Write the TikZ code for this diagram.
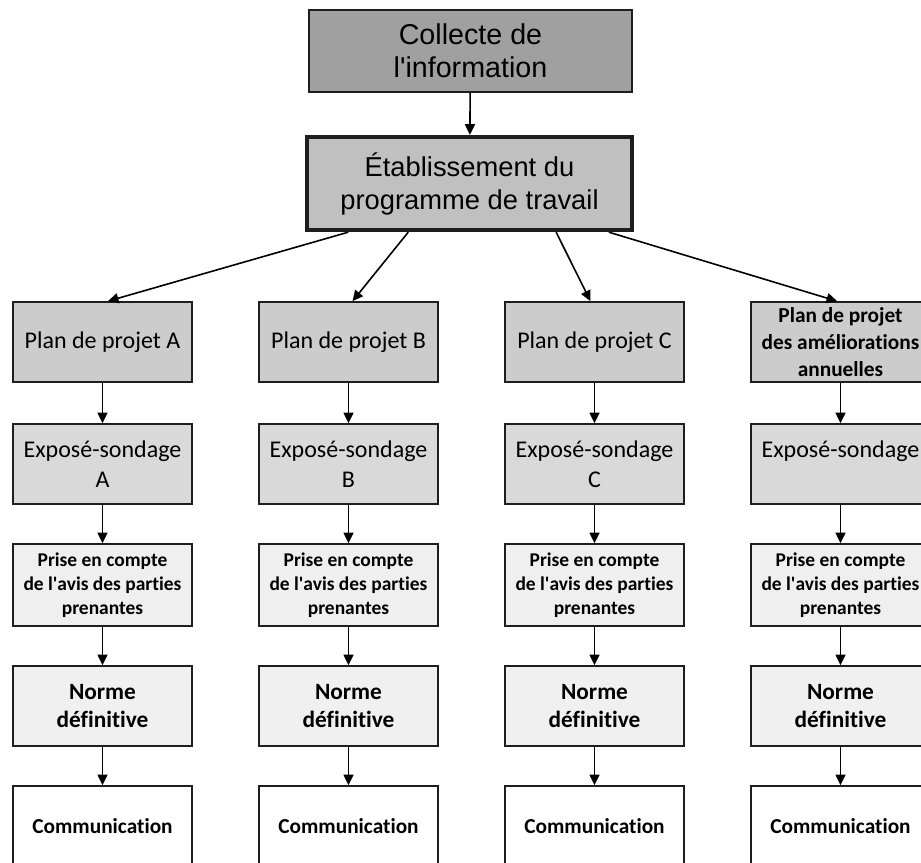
\documentclass[tikz,border=0pt]{standalone}
\usepackage{fontspec}
\setmainfont{Carlito}[Ligatures={NoCommon}]
\newfontfamily\arialfont{Liberation Sans}
\usetikzlibrary{arrows.meta,calc}
\definecolor{collectgray}{HTML}{A0A0A0}
\definecolor{proggray}{HTML}{C0C0C0}
\definecolor{plangray}{HTML}{CCCCCC}
\definecolor{expogray}{HTML}{D9D9D9}
\definecolor{avisgray}{HTML}{EFEFEF}
\definecolor{normegray}{HTML}{F0F0F0}
\definecolor{edge}{HTML}{1E1E1E}
\tikzset{
  headbox/.style={draw=edge, line width=1.2pt, fill=collectgray, inner sep=2pt,
              minimum width=242pt, minimum height=61.5pt, align=center,
              font=\arialfont\fontsize{21.5}{24.75}\selectfont},
  progbox/.style={headbox, line width=3pt, fill=proggray, minimum width=244pt, minimum height=70pt,
              font=\arialfont\fontsize{20.5}{24.75}\selectfont},
  colbox/.style={draw=edge, line width=1.2pt, inner sep=2pt, align=center,
              minimum width=134.25pt, minimum height=60pt},
  planbox/.style={colbox, fill=plangray, font=\fontsize{18}{22.5}\selectfont},
  expobox/.style={colbox, fill=expogray, font=\fontsize{18}{22.5}\selectfont},
  avisbox/.style={colbox, fill=avisgray, minimum height=61.5pt, font=\bfseries\fontsize{14.6}{18}\selectfont},
  normebox/.style={colbox, fill=normegray, font=\bfseries\fontsize{17.5}{21}\selectfont},
  commbox/.style={colbox, fill=white, font=\bfseries\fontsize{16}{19}\selectfont},
  flow/.style={-{Triangle[length=8pt,width=7.5pt]}, line width=1.2pt, draw=black},
}

\begin{document}
\begin{tikzpicture}[x=0.75pt,y=-0.75pt]
    \useasboundingbox (0,0) rectangle (921,863);
    \node[headbox] (collect) at (470.5,51)  {Collecte de\\l\textquotesingle information};
    \node[progbox] (prog)    at (469.5,183.5) {Établissement du\\programme de travail};
    \draw[flow] (collect) -- (prog);
    % the four project columns
    \node[planbox] (planA) at (102.5,342) {Plan de projet A};
    \node[planbox] (planB) at (348.5,342) {Plan de projet B};
    \node[planbox] (planC) at (594.5,342) {Plan de projet C};
    \node[planbox, font=\bfseries\fontsize{16}{20}\selectfont] (planD) at (840.5,342)
      {Plan de projet\\des améliorations\\annuelles};
    \foreach \c/\x/\tag in {A/102.5/A, B/348.5/B, C/594.5/C, D/840.5/\phantom{A}} {
      \node[expobox]  (expo\c)  at (\x,464) {Exposé-sondage\\\tag};
      \node[avisbox]  (avis\c)  at (\x,585) {Prise en compte\\de l\textquotesingle avis des parties\\prenantes};
      \node[normebox] (norme\c) at (\x,706) {Norme\\définitive};
      \node[commbox]  (comm\c)  at (\x,826) {Communication};
      \draw[flow] (plan\c) -- (expo\c);
      \draw[flow] (expo\c) -- (avis\c);
      \draw[flow] (avis\c) -- (norme\c);
      \draw[flow] (norme\c) -- (comm\c);
    }
    \draw[flow] ($(prog.south west)!0.132!(prog.south east)$) -- ([xshift=4pt]planA.north);
    \draw[flow] ($(prog.south west)!0.314!(prog.south east)$) -- ([xshift=3pt]planB.north);
    \draw[flow] ($(prog.south west)!0.763!(prog.south east)$) -- ([xshift=-3pt]planC.north);
    \draw[flow] ($(prog.south west)!0.923!(prog.south east)$) -- ([xshift=-2.5pt]planD.north);
\end{tikzpicture}
\end{document}
